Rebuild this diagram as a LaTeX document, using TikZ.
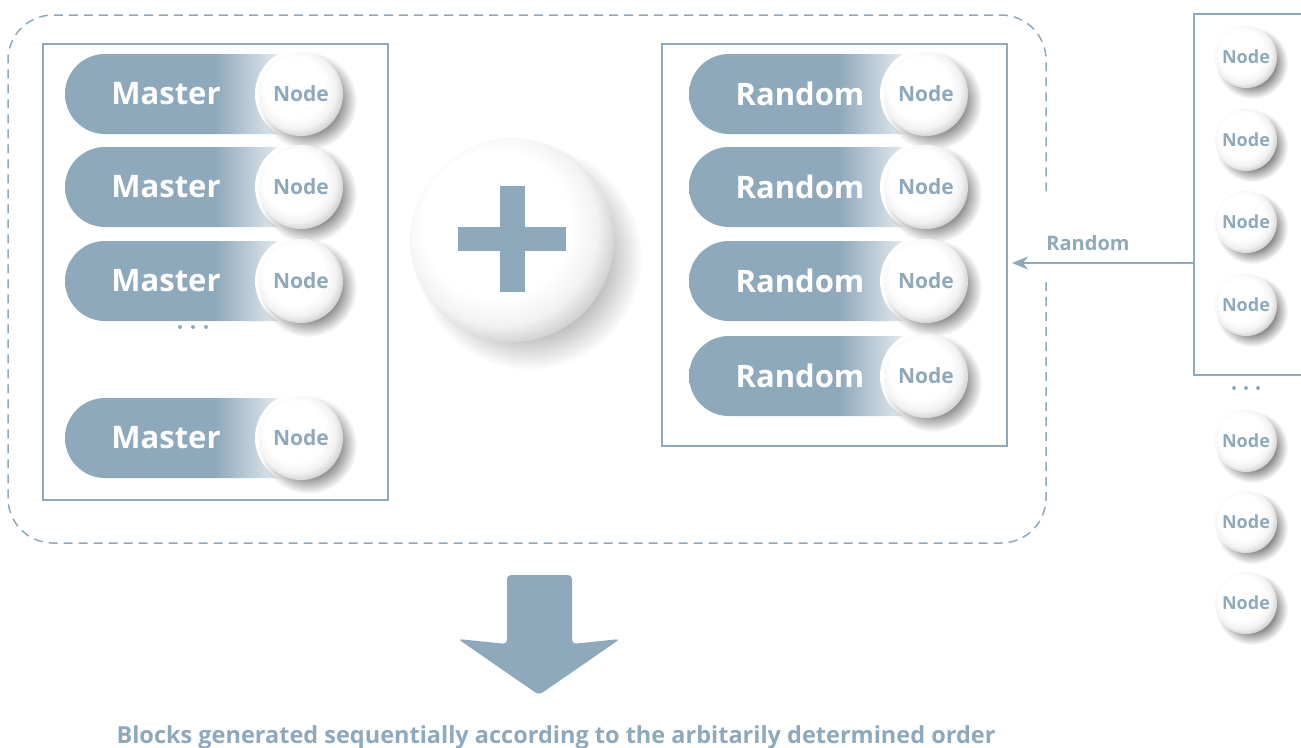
\documentclass[tikz,border=0pt]{standalone}
\usepackage{fontspec}
\setmainfont{Open Sans}
\usetikzlibrary{fadings,arrows.meta,calc}
\definecolor{mainc}{HTML}{8FA9BC}
\pgfdeclarehorizontalshading{pillfade}{100bp}{color(0bp)=(mainc); color(25bp)=(mainc); color(57bp)=(mainc); color(75bp)=(white); color(100bp)=(white)}
\pgfdeclareradialshading{sphere}{\pgfpoint{-6bp}{6bp}}{color(0bp)=(white); color(18bp)=(white); color(24bp)=(black!5); color(29bp)=(black!20); color(33bp)=(black!36); color(50bp)=(black!36)}
\pgfdeclareradialshading{softshadowshade}{\pgfpointorigin}{color(0bp)=(white); color(14bp)=(white); color(25bp)=(black); color(50bp)=(black)}
\pgfdeclarefading{softshadow}{\pgfuseshading{softshadowshade}}
\newcommand\pillshape[3]{%
  \shade[shading=pillfade] (#3,{#2-40}) -- ({#1+40},{#2-40}) arc (90:270:40pt) -- (#3,{#2+40}) -- cycle;}
\begin{document}
\begin{tikzpicture}[x=1pt,y=-1pt,
  box/.style={draw=mainc, line width=2pt, inner sep=0pt, anchor=north west},
  ball/.style={circle, minimum size=84pt, inner sep=0pt, shade, shading=sphere, text=mainc, font=\fontsize{21}{21}\selectfont\bfseries},
  smallball/.style={ball, minimum size=62pt, font=\fontsize{18}{18}\selectfont\bfseries},
  pilltext/.style={text=white, inner sep=0pt, font=\fontsize{31}{31}\selectfont\bfseries},
  lbl/.style={text=mainc, inner sep=0pt, anchor=base, font=\fontsize{20}{20}\selectfont\bfseries},
  shadowfill/.style={fill=black, opacity=.55, path fading=softshadow}]
\path[use as bounding box] (0,0) rectangle (1301,747);
% container
\draw[mainc, line width=1.5pt, dash pattern=on 9pt off 6pt, rounded corners=45pt]
  (1046,282) -- (1046,543) -- (8,543) -- (8,15) -- (1046,15) -- (1046,197);
% boxes
\node[box, minimum width=345pt, minimum height=456pt] (mbox) at (42,43) {};
\node[box, minimum width=345pt, minimum height=402pt] (rbox) at (661,43) {};
\node[box, minimum width=200pt, minimum height=361pt] (fbox) at (1193,13) {};
% pills
\foreach \y in {94,187,281,438} {\pillshape{65}{\y}{300}}
\foreach \y in {94,187,281,376} {\pillshape{689}{\y}{924}}
\foreach \y [count=\i] in {94,187,281,438} {\node[pilltext] (m\i) at (166,\y) {Master};}
\foreach \y [count=\i] in {94,187,281,376} {\node[pilltext] (r\i) at (800,\y) {Random};}
% rings
\foreach \y in {94,187,281,438} {\fill[white] (301,\y) circle (46pt);}
\foreach \y in {94,187,281,376} {\fill[white] (926,\y) circle (46pt);}
% shadows
\foreach \y in {94,187,281,438} {\path[shadowfill] (308,{\y+7}) circle (49pt);}
\foreach \y in {94,187,281,376} {\path[shadowfill] (933,{\y+7}) circle (49pt);}
\foreach \y in {57,140,222,305,441,522,603} {\path[shadowfill] (1252,{\y+6}) circle (36pt);}
\path[fill=black, opacity=.35, path fading=softshadow] (529,257) circle (113pt);
% balls
\foreach \y [count=\i] in {94,187,281,438} {\node[ball] (mn\i) at (301,\y) {Node};}
\foreach \y [count=\i] in {94,187,281,376} {\node[ball] (rn\i) at (926,\y) {Node};}
\foreach \y [count=\i] in {57,140,222,305,441,522,603} {\node[smallball] (c\i) at (1246,\y) {Node};}
\node[ball, minimum size=204pt] (plus) at (512,240) {};
\fill[mainc] (499.5,186) rectangle (524.5,292);
\fill[mainc] (458,227) rectangle (566,251);
% dots
\foreach \x in {180,193,206} {\fill[mainc] (\x,327) circle (2pt);}
\foreach \x in {1234,1246,1258} {\fill[mainc] (\x,388) circle (2pt);}
% arrow from far box
\coordinate (aend) at (1012,263);
\draw[mainc, line width=2pt, -{Stealth[length=16pt,width=13pt,inset=5pt]}] (fbox.west |- aend) -- (aend);
\node[lbl] (rlabel) at (1088,250) {Random};
% big arrow
\fill[mainc, rounded corners=4pt] (507,575) -- (572,575) -- (572,644) -- (620,639) -- (539,695) -- (458,639) -- (507,644) -- cycle;
\node[lbl, font=\fontsize{23.5}{23.5}\selectfont\bfseries] (caption) at (556,743) {Blocks generated sequentially according to the arbitarily determined order};
\end{tikzpicture}
\end{document}
